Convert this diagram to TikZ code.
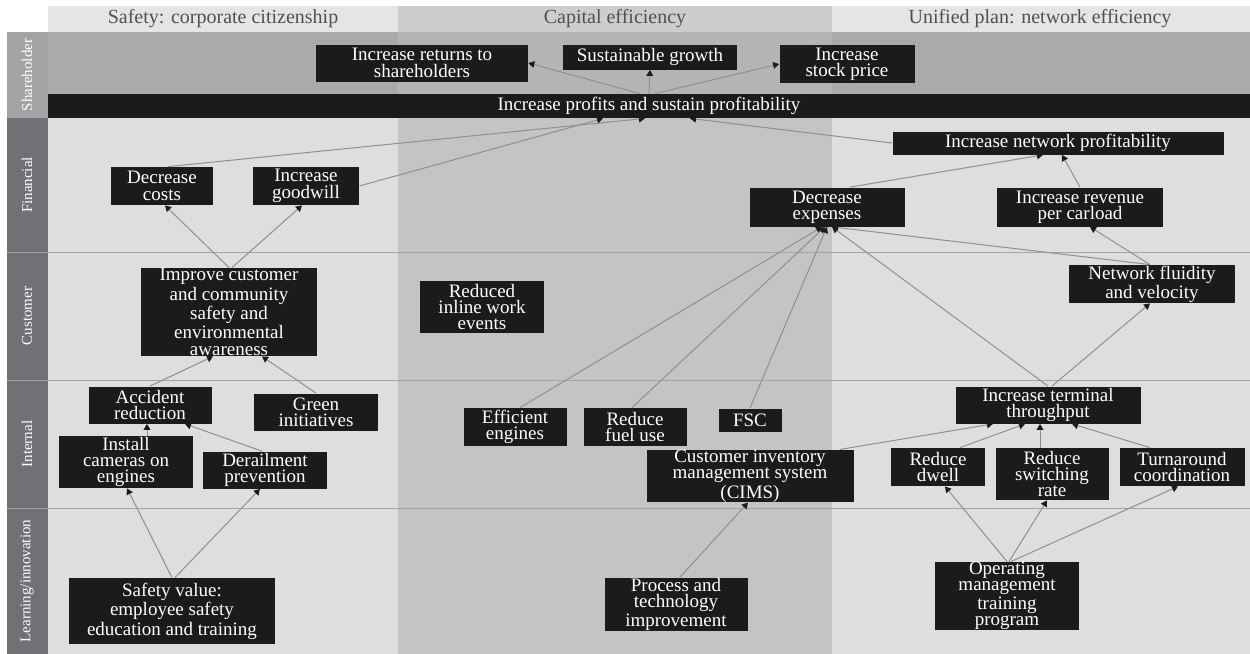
\documentclass[tikz,border=0pt]{standalone}
\usepackage{fontspec}
\setmainfont{Liberation Serif}
\usetikzlibrary{arrows.meta}
\definecolor{negro}{HTML}{1D1A1A}
\definecolor{linea}{HTML}{8E9093}
\definecolor{fondoclaro}{HTML}{DCDEE0}
\definecolor{fondomedio}{HTML}{C2C4C6}
\definecolor{cabclaro}{HTML}{E3E5E6}
\definecolor{cabmedio}{HTML}{CBCDCF}
\definecolor{accionista}{HTML}{A8AAAC}
\definecolor{accionistamedio}{HTML}{B2B4B6}
\definecolor{lateral}{HTML}{6F7174}
\definecolor{lateralclaro}{HTML}{A1A3A5}
\definecolor{separador}{HTML}{A3A5A7}
\definecolor{textocab}{HTML}{505050}
\tikzset{
  caja/.style={fill=negro,text=white,align=center,inner sep=0pt,font=\fontsize{9.5}{8.2}\selectfont},
  tam/.style 2 args={minimum width=#1,minimum height=#2},
  flecha/.style={-{Triangle[length=3pt,width=3.4pt,color=negro]},line width=0.5pt,draw=linea},
  rotulo/.style={rotate=90,text=white,font=\fontsize{7.5}{9}\selectfont},
  cabecera/.style={text=textocab,font=\fontsize{10}{11}\selectfont},
}
\begin{document}
\begin{tikzpicture}[x=0.5pt,y=-0.5pt]
  \useasboundingbox (0,0) rectangle (1250,654);
  % fondos de columnas y filas
  \fill[white] (0,0) rectangle (1250,654);
  \fill[cabclaro] (48,6) rectangle (398,32);
  \fill[cabmedio] (398,6) rectangle (832,32);
  \fill[cabclaro] (832,6) rectangle (1250,32);
  \fill[accionista] (48,32) rectangle (398,94);
  \fill[accionistamedio] (398,32) rectangle (832,94);
  \fill[accionista] (832,32) rectangle (1250,94);
  \fill[fondoclaro] (48,118) rectangle (398,654);
  \fill[fondomedio] (398,118) rectangle (832,654);
  \fill[fondoclaro] (832,118) rectangle (1250,654);
  \fill[lateralclaro] (7,32) rectangle (48,118);
  \fill[lateral] (7,118) rectangle (48,654);
  \foreach \y in {252,380,508} {
    \draw[separador,line width=0.5pt] (48,\y) -- (1250,\y);
    \draw[lateralclaro,line width=0.5pt] (7,\y) -- (48,\y);
  }
  % cabeceras
  \node[cabecera] (cseg) at (223,19) {Safety: corporate citizenship};
  \node[cabecera] (ccap) at (615,19) {Capital efficiency};
  \node[cabecera] (cred) at (1040,19) {Unified plan: network efficiency};
  \node[rotulo] (raccion) at (27,75) {Shareholder};
  \node[rotulo] (rfin) at (27,185) {Financial};
  \node[rotulo] (rcli) at (27,316) {Customer};
  \node[rotulo] (rint) at (27,444) {Internal};
  \node[rotulo] (rapr) at (27,581) {Learning/innovation};
  % cajas
  \node[caja,tam={106pt}{18.5pt}] (ret) at (422,63) {Increase returns to\\shareholders};
  \node[caja,tam={87pt}{12.5pt}] (sus) at (650,57) {Sustainable growth};
  \node[caja,tam={67.5pt}{19pt}] (stock) at (847,64) {Increase\\stock price};
  \node[caja,tam={601pt}{12pt}] (bar) at (649,106) {Increase profits and sustain profitability};
  \node[caja,tam={165.5pt}{11.5pt}] (netprof) at (1058,143) {Increase network profitability};
  \node[caja,tam={51pt}{19pt}] (deccost) at (162,186) {Decrease\\costs};
  \node[caja,tam={53pt}{19pt}] (goodwill) at (306,186) {Increase\\goodwill};
  \node[caja,tam={77.5pt}{19.5pt}] (decexp) at (827,207) {Decrease\\expenses};
  \node[caja,tam={83pt}{19.5pt}] (revenue) at (1080,207) {Increase revenue\\per carload};
  \node[caja,tam={88pt}{44pt}] (improve) at (229,312) {Improve customer\\and community\\safety and\\environmental\\awareness};
  \node[caja,tam={62pt}{26pt}] (reduced) at (482,307) {Reduced\\inline work\\events};
  \node[caja,tam={83pt}{19pt}] (netflu) at (1152,284) {Network fluidity\\and velocity};
  \node[caja,tam={61.5pt}{18.5pt}] (accident) at (150,405) {Accident\\reduction};
  \node[caja,tam={62pt}{18.5pt}] (green) at (316,412) {Green\\initiatives};
  \node[caja,tam={51.5pt}{19pt}] (effeng) at (515,427) {Efficient\\engines};
  \node[caja,tam={51.5pt}{19pt}] (fuel) at (635,427) {Reduce\\fuel use};
  \node[caja,tam={31.5pt}{11.5pt}] (fsc) at (750,420) {FSC};
  \node[caja,tam={92.5pt}{18.5pt}] (terminal) at (1048,405) {Increase terminal\\throughput};
  \node[caja,tam={67pt}{26pt}] (cameras) at (126,462) {Install\\cameras on\\engines};
  \node[caja,tam={62pt}{18.5pt}] (derail) at (265,470) {Derailment\\prevention};
  \node[caja,tam={103.5pt}{25.5pt}] (cims) at (750,476) {Customer inventory\\management system\\(CIMS)};
  \node[caja,tam={47pt}{19pt}] (dwell) at (938,467) {Reduce\\dwell};
  \node[caja,tam={56.5pt}{26pt}] (switching) at (1052,474) {Reduce\\switching\\rate};
  \node[caja,tam={62.5pt}{19pt}] (turnaround) at (1182,467) {Turnaround\\coordination};
  \node[caja,tam={103pt}{33pt}] (safety) at (172,611) {Safety value:\\employee safety\\education and training};
  \node[caja,tam={71.5pt}{26.5pt}] (process) at (676,604) {Process and\\technology\\improvement};
  \node[caja,tam={72pt}{33.5pt}] (operating) at (1007,596) {Operating\\management\\training\\program};
  % conexiones
  \draw[flecha] ([xshift=-4.5pt]bar.north) -- (ret.east);
  \draw[flecha] (bar.north) -- (sus.south);
  \draw[flecha] ([xshift=3pt]bar.north) -- (stock.west);
  \draw[flecha] ([xshift=3pt]deccost.north) -- ([xshift=-2pt]bar.south);
  \draw[flecha] (goodwill.east) -- ([xshift=-23pt]bar.south);
  \draw[flecha] (netprof.west) -- ([xshift=20.5pt]bar.south);
  \draw[flecha] ([xshift=11.5pt]decexp.north) -- ([xshift=-7.5pt]netprof.south);
  \draw[flecha] (revenue.north) -- ([xshift=2pt]netprof.south);
  \draw[flecha] (improve.north) -- ([xshift=1.5pt]deccost.south);
  \draw[flecha] ([xshift=1.5pt]improve.north) -- ([xshift=-2pt]goodwill.south);
  \draw[flecha] (accident.north) -- ([xshift=-8pt]improve.south);
  \draw[flecha] (green.north) -- ([xshift=16.5pt]improve.south);
  \draw[flecha] ([xshift=10.5pt]cameras.north) -- ([xshift=-1.5pt]accident.south);
  \draw[flecha] ([xshift=-1.5pt]derail.north) -- ([xshift=17.5pt]accident.south);
  \draw[flecha] (safety.north) -- ([xshift=0.5pt]cameras.south);
  \draw[flecha] ([xshift=1.5pt]safety.north) -- ([xshift=-2.5pt]derail.south);
  \draw[flecha] ([xshift=2.5pt]effeng.north) -- ([xshift=-2.5pt]decexp.south);
  \draw[flecha] ([xshift=-1.5pt]fuel.north) -- ([xshift=-1pt]decexp.south);
  \draw[flecha] (fsc.north) -- (decexp.south);
  \draw[flecha] (terminal.north) -- ([xshift=2.5pt]decexp.south);
  \draw[flecha] ([xshift=-1pt]netflu.north) -- ([xshift=2.5pt]decexp.south);
  \draw[flecha] ([xshift=2pt]terminal.north) -- ([xshift=-1pt]netflu.south);
  \draw[flecha] ([xshift=-1pt]netflu.north) -- ([xshift=5pt]revenue.south);
  \draw[flecha] ([xshift=45pt]cims.north) -- ([xshift=-27.5pt]terminal.south);
  \draw[flecha] ([xshift=11pt]dwell.north) -- ([xshift=-11.5pt]terminal.south);
  \draw[flecha] ([xshift=-6pt]switching.north) -- ([xshift=-4pt]terminal.south);
  \draw[flecha] ([xshift=-16pt]turnaround.north) -- ([xshift=12pt]terminal.south);
  \draw[flecha] (operating.north) -- ([xshift=3.5pt]dwell.south);
  \draw[flecha] ([xshift=1pt]operating.north) -- ([xshift=-2.5pt]switching.south);
  \draw[flecha] ([xshift=2pt]operating.north) -- ([xshift=-2pt]turnaround.south);
  \draw[flecha] ([xshift=2pt]process.north) -- ([xshift=-1pt]cims.south);
\end{tikzpicture}
\end{document}
